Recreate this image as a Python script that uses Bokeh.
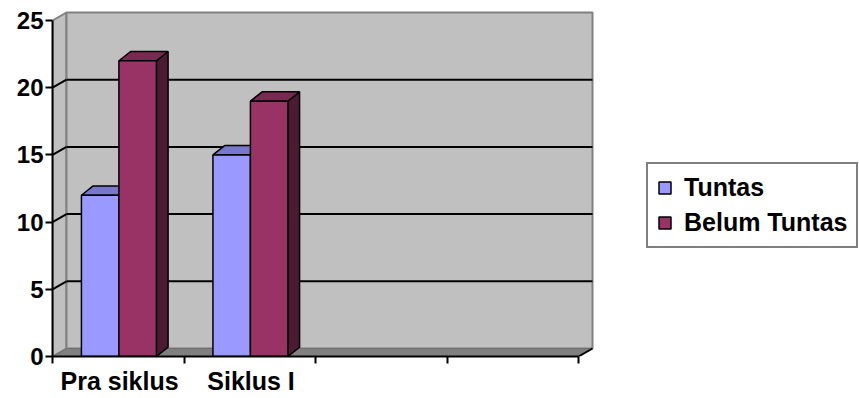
from bokeh.plotting import figure
from bokeh.models import Range1d, FixedTicker, Legend, LegendItem, ColumnDataSource
from bokeh.embed import file_html
from bokeh.resources import INLINE

# ---- data -------------------------------------------------------------
categories = ["Pra siklus", "Siklus I"]
n_slots = 4                      # the category axis has four slots
series_names = ["Tuntas", "Belum Tuntas"]
tuntas = [12, 15]
belum_tuntas = [22, 19]
y_ticks = [0, 5, 10, 15, 20, 25]
y_max = 25

# ---- styling ------------------------------------------------------------
FONT = "Liberation Sans"
PX_X = 131.5     # pixels per category slot
PX_Y = 13.44     # pixels per value unit
LEFT, BOTTOM = 52, 42
W, H = 859, 398

wall_dx = 14 / PX_X      # depth of the box (walls / floor)
wall_dy = 8 / PX_Y
bar_dx = 11.7 / PX_X     # depth of each column
bar_dy = 9.3 / PX_Y
bar_w = 0.285
group_c = 0.505

front_colors = ["#9999FF", "#993366"]
top_colors = ["#7777CC", "#7A2952"]
side_colors = ["#5C5C99", "#4D1A33"]

frame_w = W - LEFT
frame_h = H - BOTTOM
p = figure(width=W, height=H,
           x_range=Range1d(0, frame_w / PX_X),
           y_range=Range1d(0, frame_h / PX_Y),
           output_backend="svg", toolbar_location=None,
           min_border_left=LEFT, min_border_right=0,
           min_border_top=0, min_border_bottom=BOTTOM)
p.outline_line_color = None
p.grid.visible = False
p.background_fill_color = "white"

# ---- 3-D box: back wall, left wall, floor -------------------------------
x_end = float(n_slots)
p.patch([0, 0, wall_dx, wall_dx], [0, y_max, y_max + wall_dy, wall_dy],
        fill_color="#C0C0C0", line_color="#808080", line_width=2)
p.quad(left=[wall_dx], right=[x_end + wall_dx], bottom=[wall_dy], top=[y_max + wall_dy],
       fill_color="#C0C0C0", line_color="#808080", line_width=2)
p.patch([0, x_end, x_end + wall_dx, wall_dx], [0, 0, wall_dy, wall_dy],
        fill_color="#808080", line_color="#6E6E6E", line_width=1)
p.segment(x0=[x_end], y0=[0], x1=[x_end + wall_dx], y1=[wall_dy],
          line_color="black", line_width=2)

# gridlines on the back wall plus their slant across the left wall
grid_vals = [v for v in y_ticks if 0 < v < y_max]
p.segment(x0=[wall_dx] * len(grid_vals), y0=[v + wall_dy for v in grid_vals],
          x1=[x_end + wall_dx] * len(grid_vals), y1=[v + wall_dy for v in grid_vals],
          line_color="black", line_width=2)
p.segment(x0=[0] * len(grid_vals), y0=grid_vals,
          x1=[wall_dx] * len(grid_vals), y1=[v + wall_dy for v in grid_vals],
          line_color="black", line_width=2)

# ---- columns ----------------------------------------------------------------
legend_items = []
for j, (name, vals) in enumerate(zip(series_names, [tuntas, belum_tuntas])):
    lefts = [i + group_c - bar_w + j * bar_w for i in range(len(vals))]
    rights = [l + bar_w for l in lefts]
    side_xs = [[r, r, r + bar_dx, r + bar_dx] for r in rights]
    side_ys = [[0, v, v + bar_dy, bar_dy] for v in vals]
    top_xs = [[l, r, r + bar_dx, l + bar_dx] for l, r in zip(lefts, rights)]
    top_ys = [[v, v, v + bar_dy, v + bar_dy] for v in vals]
    p.patches(side_xs, side_ys, fill_color=side_colors[j], line_color="black", line_width=1.5)
    p.patches(top_xs, top_ys, fill_color=top_colors[j], line_color="black", line_width=1.5)
    src = ColumnDataSource(dict(left=lefts, right=rights, top=vals, bottom=[0] * len(vals)))
    r = p.quad(left="left", right="right", top="top", bottom="bottom", source=src,
               fill_color=front_colors[j], line_color="black", line_width=1.5)
    legend_items.append(LegendItem(label=name, renderers=[r]))

# ---- axes ---------------------------------------------------------------------
ya = p.yaxis[0]
ya.ticker = FixedTicker(ticks=y_ticks)
ya.bounds = (0, y_max)
ya.axis_line_color = "black"
ya.axis_line_width = 2
ya.major_tick_line_width = 2
ya.major_tick_out = 7
ya.major_tick_in = 0
ya.minor_tick_line_color = None
ya.major_label_standoff = 2
ya.major_label_text_font = FONT
ya.major_label_text_font_style = "bold"
ya.major_label_text_font_size = "24px"
ya.major_label_text_color = "black"

cat_ticks = [i + 0.51 for i in range(len(categories))]
xa = p.xaxis[0]
xa.ticker = FixedTicker(ticks=cat_ticks, minor_ticks=list(range(n_slots + 1)))
xa.major_label_overrides = {t: c for t, c in zip(cat_ticks, categories)}
xa.bounds = (0, x_end)
xa.axis_line_color = "black"
xa.axis_line_width = 2
xa.major_tick_line_color = None
xa.major_tick_out = 7
xa.major_tick_in = 0
xa.minor_tick_line_color = "black"
xa.minor_tick_line_width = 2
xa.minor_tick_out = 7
xa.minor_tick_in = 0
xa.major_label_standoff = 3
xa.major_label_text_font = FONT
xa.major_label_text_font_style = "bold"
xa.major_label_text_font_size = "25px"
xa.major_label_text_color = "black"

# ---- legend -------------------------------------------------------------------
legend = Legend(items=legend_items, location=(594, 108), orientation="vertical",
                border_line_color="black", border_line_width=2,
                background_fill_color="white", background_fill_alpha=1,
                label_text_font=FONT, label_text_font_style="bold",
                label_text_font_size="25px", label_text_color="black",
                glyph_width=15, glyph_height=15, label_standoff=12,
                padding=9, spacing=6, margin=0)
p.add_layout(legend)

open("out.html", "w").write(file_html(p, INLINE))
